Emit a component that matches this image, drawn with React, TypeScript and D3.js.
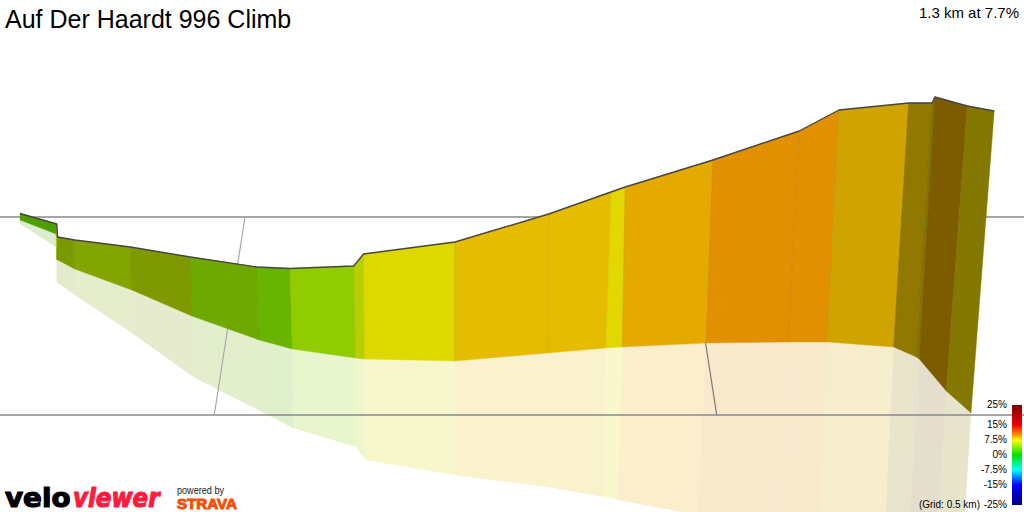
import React from 'react';
import * as d3 from 'd3';

const title = 'Auf Der Haardt 996 Climb';
const summary = '1.3 km at 7.7%';
const gridNote = '(Grid: 0.5 km)';

// distance along the climb (m) and height (m) of each profile break
const topDist = [0, 49, 50, 73, 147, 227, 316, 360, 445, 458, 580, 705, 788, 807, 924, 1039, 1092, 1185, 1216, 1220, 1263, 1299];
const topElev = [3.5, -7, -20, -23, -30, -40, -50, -51.5, -49, -37, -25, 3, 25, 30, 57, 86, 107, 114, 114, 120, 111, 106];
const baseDist = [0, 48, 49, 73, 149, 229, 319, 363, 447, 459, 580, 704, 781, 803, 915, 1024, 1076, 1165, 1195, 1199, 1235, 1268];
const baseElev = [-3, -17, -42.5, -52, -73, -99, -123, -132, -141, -142, -144, -136, -131, -130, -126, -125, -125, -130, -140, -142, -174, -196];
const shadowDist = [0, 48, 49, 73, 149, 231, 320, 364, 448, 461, 579, 703, 780, 797, 904, 1015, 1065, 1152, 1181, 1184, 1221, 1257];
const shadowElev = [-7, -30, -65, -78, -116, -160, -194, -211, -230, -243, -258, -270, -280, -283, -298, -313, -323, -333, -340, -340, -340, -335];

const segmentColors = [
  '#4f9f00', '#a8c000', '#7a9a00', '#84a400', '#7e9a00', '#6ea800', '#68b400',
  '#90cc00', '#b4d000', '#dcd800', '#e6bc00', '#e6bc00', '#e2d800', '#e4aa00',
  '#e09000', '#e09000', '#d0a400', '#917800', '#857400', '#7d5c00', '#857800',
];

const gridElev = [0, -198];
const gridTopDist = [300, 888];
const gridBottomDist = [259, 929];

const legendTicks = [25, 15, 7.5, 0, -7.5, -15, -25];
const legendGrades = [25, 15, 10, 7.5, 0, -7.5, -15, -25];
const legendColors = ['#800000', '#f00000', '#ff9000', '#ffff00', '#00e000', '#00ffff', '#0000ff', '#000080'];

const W = 1024;
const H = 512;
const sans = '"Liberation Sans", Arial, sans-serif';
const logoFont = '"DejaVu Sans", sans-serif';

const x = d3.scaleLinear().domain([0, 1300]).range([20, 995]);
const y = d3.scaleLinear().domain([0, 100]).range([217, 117]);
const legendY = d3.scaleLinear().domain([25, -25]).range([405, 505]);

const poly = d3.line<[number, number]>().x(d => x(d[0])).y(d => y(d[1]));

const quad = (d1: number[], e1: number[], d2: number[], e2: number[], i: number) =>
  poly([
    [d1[i], e1[i]],
    [d1[i + 1], e1[i + 1]],
    [d2[i + 1], e2[i + 1]],
    [d2[i], e2[i]],
  ]) + 'Z';

const topLine = poly(topDist.map((d, i) => [d, topElev[i]] as [number, number]));

export default function App() {
  return (
    <svg
      width={W}
      height={H}
      viewBox={`0 0 ${W} ${H}`}
      style={{ position: 'absolute', left: 0, top: 0, display: 'block', background: '#fff' }}
      fontFamily={sans}
    >
      <defs>
        <linearGradient id="legend" x1="0" y1="0" x2="0" y2="1">
          {legendGrades.map((g, i) => (
            <stop key={g} offset={(legendY(g) - 405) / 100} stopColor={legendColors[i]} />
          ))}
        </linearGradient>
      </defs>

      {segmentColors.map((c, i) => (
        <path key={i} d={quad(baseDist, baseElev, shadowDist, shadowElev, i)} fill={c} fillOpacity={0.2} />
      ))}

      {gridElev.map(e => (
        <line key={e} x1={0} x2={W} y1={y(e)} y2={y(e)} stroke="#888" strokeWidth={1.5} />
      ))}
      {gridTopDist.map((d, i) => (
        <line
          key={d}
          x1={x(d)}
          y1={y(gridElev[0])}
          x2={x(gridBottomDist[i])}
          y2={y(gridElev[1])}
          stroke={i === 0 ? '#a8a8ac' : '#777'}
          strokeWidth={1.2}
        />
      ))}

      {segmentColors.map((c, i) => (
        <path
          key={i}
          d={quad(topDist, topElev, baseDist, baseElev, i)}
          fill={c}
          stroke={c}
          strokeWidth={0.4}
        />
      ))}
      {segmentColors.slice(1).map((c, i) => (
        <line
          key={i}
          x1={x(topDist[i + 1])}
          y1={y(topElev[i + 1])}
          x2={x(baseDist[i + 1])}
          y2={y(baseElev[i + 1])}
          stroke={d3.color(c)!.darker(0.5).formatHex()}
          strokeOpacity={0.35}
          strokeWidth={1}
        />
      ))}
      <path d={topLine ?? ''} fill="none" stroke="#454545" strokeWidth={1.4} strokeLinejoin="round" />

      <text x={5} y={28} fontSize={25} fill="#000">{title}</text>
      <text x={1019} y={18} fontSize={15} textAnchor="end" fill="#000">{summary}</text>

      <rect x={1012} y={405} width={10} height={100} fill="url(#legend)" />
      {legendTicks.map(t => (
        <text key={t} x={1007} y={legendY(t) + 3} fontSize={10} textAnchor="end" fill="#000">
          {`${t}%`}
        </text>
      ))}
      <text x={980} y={legendY(-25) + 3} fontSize={10} textAnchor="end" fill="#000">{gridNote}</text>

      <g fontFamily={logoFont} fontWeight="bold">
        <text transform="translate(5,506.5) scale(1.03,1)" fontSize={27} stroke="#000" strokeWidth={1.2} fill="#000">velo</text>
        <text transform="translate(73,506.5) scale(0.85,1)" fontSize={27} fontStyle="italic" stroke="#ff1a40" strokeWidth={1.2} fill="#ff1a40">viewer</text>
      </g>
      <text x={177} y={493.5} fontSize={10} fill="#222" textLength={47} lengthAdjust="spacingAndGlyphs">powered by</text>
      <text x={177} y={509} fontSize={15} fontWeight="bold" fill="#fc4c02" stroke="#fc4c02" strokeWidth={1} textLength={60} lengthAdjust="spacingAndGlyphs">STRAVA</text>
    </svg>
  );
}
